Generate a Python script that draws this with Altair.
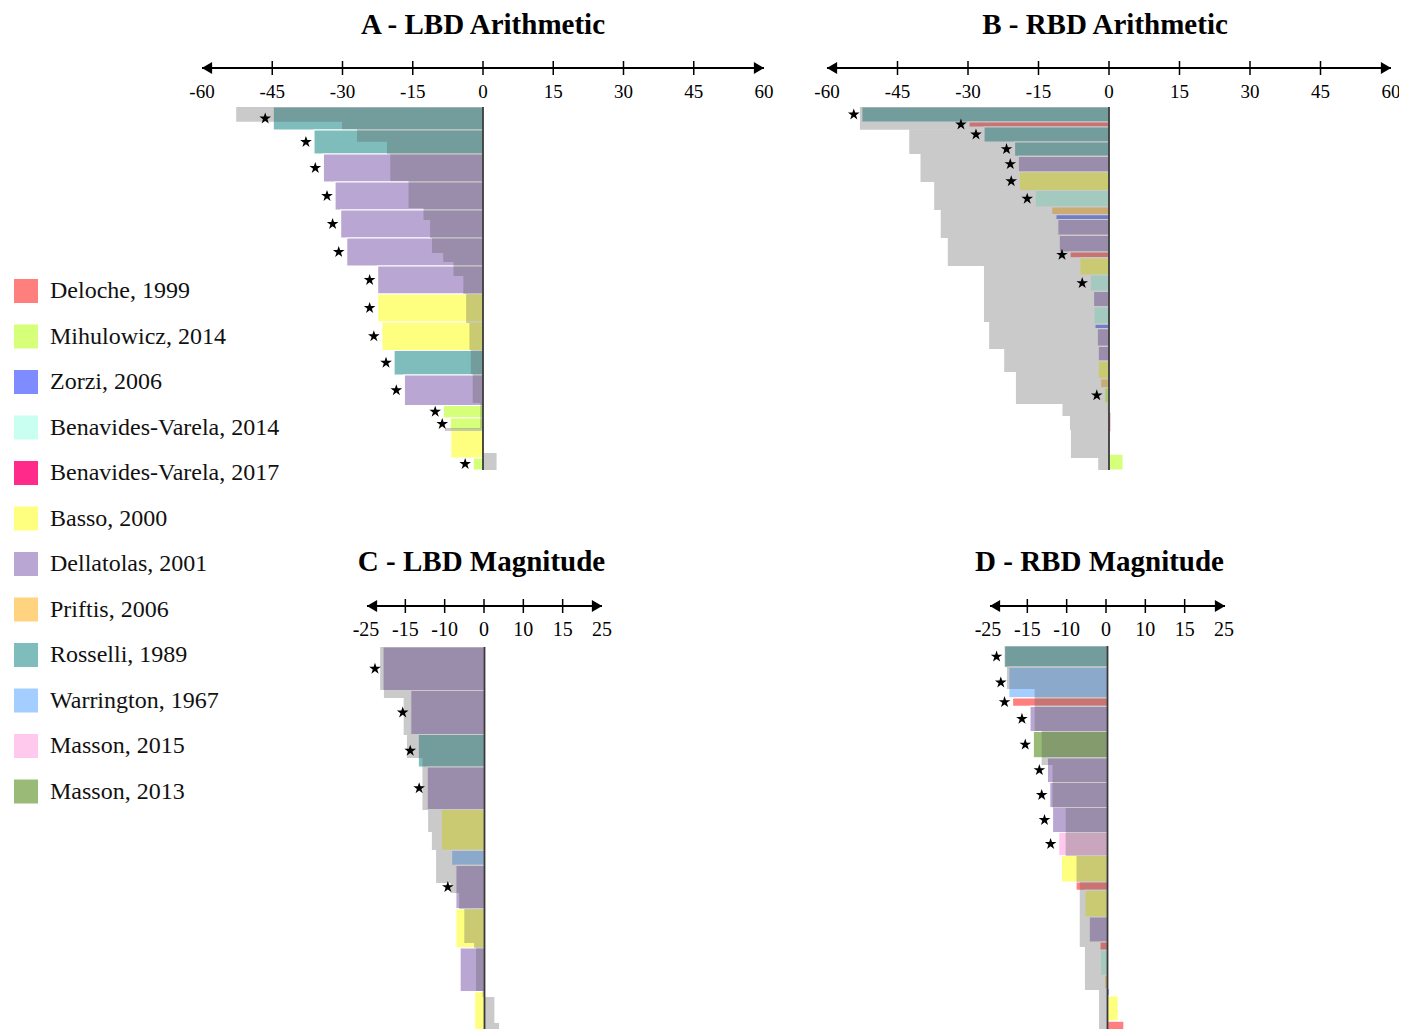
import altair as alt
import pandas as pd
import numpy as np

# ---------------- data ----------------
STUDIES = ["Deloche, 1999", "Mihulowicz, 2014", "Zorzi, 2006", "Benavides-Varela, 2014",
           "Benavides-Varela, 2017", "Basso, 2000", "Dellatolas, 2001", "Priftis, 2006",
           "Rosselli, 1989", "Warrington, 1967", "Masson, 2015", "Masson, 2013"]
COLORS = ["#ff7f7f", "#d6ff7a", "#7f8cff", "#c8fff0", "#ff2a8a", "#ffff7f",
          "#b9a6d3", "#ffd37f", "#7fbcbc", "#a3ceff", "#ffc9ee", "#99bb77"]

DEL, MIH, ZOR, BV14, BV17, BAS, DLT, PRI, ROS, WAR, M15, M13 = STUDIES

# Panel A - LBD Arithmetic (coloured bars: study, effect, weight, significance)
A_STUDY = [ROS, ROS, DLT, DLT, DLT, DLT, DLT, BAS, BAS, ROS, DLT, MIH, MIH, BAS, MIH]
A_VALUE = [-44.8, -36.1, -34.1, -31.6, -30.4, -29.1, -22.5, -22.5, -21.6, -19.0, -16.8, -8.5, -7.0, -6.9, -2.1]
A_WEIGHT = [23, 24, 28, 28, 28, 28, 28, 28, 28.5, 24.5, 30.5, 12.5, 12, 28, 12]
A_SIG = [1, 1, 1, 1, 1, 1, 1, 1, 1, 1, 1, 1, 1, 0, 1]
# hatched comparison bars in panel A
A_HVALUE = [-52.7, -30.1, -26.9, -20.5, -19.8, -15.9, -12.7, -11.3, -10.9, -8.5, -6.3, -4.2, -3.6,
            -2.9, -2.6, -2.2, -0.6, -8.1, -0.2, 2.9]
A_HWEIGHT = [14.7, 7.6, 12.4, 12.6, 26.7, 27, 12, 18, 15, 9, 14, 18, 29, 27, 24, 29, 25, 3, 22, 17]

# Panel B - RBD Arithmetic
B_STUDY = [ROS, DEL, ROS, ROS, DLT, BAS, BV14, PRI, ZOR, DLT, DLT, DEL, BAS, BV14, DLT, BV14, ZOR,
           DLT, DLT, BAS, PRI, MIH, PRI, BV17, MIH, ZOR, MIH]
B_VALUE = [-52.6, -29.8, -26.6, -20.1, -19.3, -19.1, -15.7, -12.2, -11.3, -10.9, -10.6, -8.3, -6.2,
           -4.0, -3.3, -3.2, -3.0, -2.5, -2.3, -2.3, -1.8, -0.9, -0.4, 0.4, 0.3, 0.3, 3.0]
B_WEIGHT = [15, 5, 15, 14.3, 15.7, 18.5, 16.5, 7.7, 4.8, 15.8, 16.7, 5.8, 17.2, 16.3, 15.6, 17.3, 4.4,
            17.7, 14.9, 17.6, 9, 15.2, 9.2, 20, 16.6, 5.4, 15.8]
B_SIG = [1, 1, 1, 1, 1, 1, 1, 0, 0, 0, 0, 1, 0, 1, 0, 0, 0, 0, 0, 0, 0, 1, 0, 0, 0, 0, 0]
B_HVALUE = [-53.0, -42.5, -40.1, -37.2, -35.8, -34.3, -26.6, -25.5, -22.3, -19.8, -9.9, -8.3, -8.1, -2.3]
B_HWEIGHT = [22.7, 24.3, 28, 28, 28, 28, 56, 27, 23, 32, 12, 14, 28, 12]

# Panel C - LBD Magnitude
C_STUDY = [DLT, DLT, ROS, DLT, BAS, WAR, DLT, BAS, DLT, BAS]
C_VALUE = [-21.6, -15.7, -14.1, -12.2, -9.2, -7.0, -6.1, -6.1, -5.2, -2.1]
C_WEIGHT = [43.5, 44, 32.5, 42.5, 40.8, 15, 43.5, 39, 43.9, 48.3]
C_SIG = [1, 1, 1, 1, 0, 0, 1, 0, 0, 0]
C_HVALUE = [-22.2, -21.4, -17.2, -16.5, -13.2, -12.0, -11.2, -10.3, -7.2, -5.4, -4.3, -2.2, -1.8, -0.4, 2.1, 3.1]
C_HWEIGHT = [43, 8, 37, 23, 52, 22, 18, 33, 10, 16, 34, 5, 43, 6, 26, 17]

# Panel D - RBD Magnitude
D_STUDY = [ROS, WAR, DEL, DLT, M13, DLT, DLT, DLT, M15, BAS, DEL, BAS, DLT, DEL, BV14, PRI, ZOR, BAS, DEL]
D_VALUE = [-21.9, -21.0, -20.2, -16.5, -15.8, -12.8, -12.3, -11.7, -10.4, -9.8, -6.7, -4.8, -3.9,
           -1.6, -1.5, -0.6, 0.4, 2.3, 3.5]
D_WEIGHT = [21.2, 30.6, 8.5, 25.2, 26.3, 24.7, 25, 25, 23, 26.5, 8.3, 26.7, 25, 8.3, 25, 13.2, 7.3, 25.4, 18.8]
D_SIG = [1, 1, 1, 1, 1, 1, 1, 1, 1, 0, 0, 0, 0, 0, 0, 0, 0, 0, 0]
D_HVALUE = [-21.9, -21.4, -15.5, -14.0, -11.7, -8.9, -6.6, -5.9, -4.8, -1.8]
D_HWEIGHT = [21, 22, 42, 34, 43, 48, 26, 65, 43, 50]

# axis tick labels (strings, as printed)
AB_LABELS = ["-60", "-45", "-30", "-15", "0", "15", "30", "45", "60"]
CD_LABELS = ["-25", "-15", "-10", "0", "10", "15", "25"]

STAR = ("M0,-1L0.2245,-0.309L0.9511,-0.309L0.3633,0.118L0.5878,0.809L0,0.382"
        "L-0.5878,0.809L-0.3633,0.118L-0.9511,-0.309L-0.2245,-0.309Z")
SERIF = "Liberation Serif"

color_enc = alt.Color(
    "study:N",
    scale=alt.Scale(domain=STUDIES, range=COLORS),
    legend=alt.Legend(
        title=None, orient="none", legendX=6, legendY=271, symbolType="square",
        symbolSize=576, symbolStrokeWidth=0, symbolOpacity=1, labelFont=SERIF,
        labelFontSize=24, labelColor="#111", labelOffset=12, rowPadding=21.5,
        labelLimit=400, padding=0,
    ),
)


def panel(title, study, value, weight, sig, hvalue, hweight, xdom, xrange, ytop,
          axis_y, title_y, title_dx, labels, label_range, label_size):
    total = float(np.sum(weight))
    ends = np.cumsum(weight)
    starts = ends - np.array(weight)
    col = pd.DataFrame({"study": study, "value": value, "zero": 0.0,
                        "y0": starts, "y1": ends, "sig": sig})
    col["ymid"] = (col["y0"] + col["y1"]) / 2
    hends = np.cumsum(hweight)
    hstarts = hends - np.array(hweight)
    hat = pd.DataFrame({"value": hvalue, "zero": 0.0, "y0": hstarts, "y1": hends})
    stars = col[col["sig"] == 1]

    xs = alt.Scale(domain=xdom, range=xrange, nice=False, zero=False)
    ys = alt.Scale(domain=[0, total], range=[ytop, ytop + total], nice=False, zero=False)

    def X(f):
        return alt.X(f, type="quantitative", scale=xs, axis=None)

    def Y(f):
        return alt.Y(f, type="quantitative", scale=ys, axis=None)

    bars = alt.Chart(col).mark_rect(stroke="white", strokeWidth=1.2).encode(
        x=X("value"), x2=alt.X2("zero"), y=Y("y0"), y2=alt.Y2("y1"), color=color_enc)
    hatch = alt.Chart(hat).mark_rect(fill="#5a5a5a", fillOpacity=0.32).encode(
        x=X("value"), x2=alt.X2("zero"), y=Y("y0"), y2=alt.Y2("y1"))
    zline = alt.Chart(pd.DataFrame({"zero": [0.0], "a": [0.0], "b": [total]})).mark_rule(
        color="#3a3a3a", strokeWidth=1.8).encode(x=X("zero"), y=Y("a"), y2=alt.Y2("b"))
    star = alt.Chart(stars).mark_point(shape=STAR, filled=True, size=150, color="black",
                                       opacity=1, xOffset=-8).encode(x=X("value"), y=Y("ymid"))
    ax = pd.DataFrame({"a": [xdom[0]], "b": [xdom[1]]})
    aline = alt.Chart(ax).mark_rule(color="black", strokeWidth=2).encode(
        x=X("a"), x2=alt.X2("b"), y=alt.value(axis_y))
    la = alt.Chart(ax).mark_point(shape="triangle-left", filled=True, size=140, color="black",
                                  opacity=1, xOffset=5).encode(x=X("a"), y=alt.value(axis_y))
    ra = alt.Chart(ax).mark_point(shape="triangle-right", filled=True, size=140, color="black",
                                  opacity=1, xOffset=-5).encode(x=X("b"), y=alt.value(axis_y))

    # tick axis: labels evenly spaced along the arrow (as printed), ticks at inner labels
    lab_df = pd.DataFrame({"lab": labels})
    inner = pd.DataFrame({"lab": labels[1:-1]})
    ls = alt.Scale(type="point", domain=labels, range=label_range, padding=0)
    tk = alt.Chart(inner).mark_rule(color="black", strokeWidth=1.5).encode(
        x=alt.X("lab:O", scale=ls, axis=None, sort=None),
        y=alt.value(axis_y - 7), y2=alt.value(axis_y + 7))
    lb = alt.Chart(lab_df).mark_text(
        font=SERIF, fontSize=label_size, baseline="middle", color="black").encode(
        x=alt.X("lab:O", scale=ls, axis=None, sort=None),
        y=alt.value(axis_y + 24), text="lab:N")
    tt = alt.Chart(pd.DataFrame({"x": [0.0], "t": [title]})).mark_text(
        font=SERIF, fontSize=29, fontWeight="bold", baseline="alphabetic", color="black",
        dx=title_dx).encode(x=X("x"), y=alt.value(title_y), text="t:N")
    return [bars, hatch, zline, star, aline, la, ra, tk, lb, tt]


layers = []
layers += panel("A - LBD Arithmetic", A_STUDY, A_VALUE, A_WEIGHT, A_SIG, A_HVALUE, A_HWEIGHT,
                [-60, 60], [194, 756], 99, 60, 26, 0, AB_LABELS, [194, 756], 19)
layers += panel("B - RBD Arithmetic", B_STUDY, B_VALUE, B_WEIGHT, B_SIG, B_HVALUE, B_HWEIGHT,
                [-60, 60], [819, 1383], 99, 60, 26, -4, AB_LABELS, [819, 1383], 19)
layers += panel("C - LBD Magnitude", C_STUDY, C_VALUE, C_WEIGHT, C_SIG, C_HVALUE, C_HWEIGHT,
                [-25, 25], [359, 594], 639, 598, 563, -3, CD_LABELS, [358, 594], 20)
layers += panel("D - RBD Magnitude", D_STUDY, D_VALUE, D_WEIGHT, D_SIG, D_HVALUE, D_HWEIGHT,
                [-25, 25], [982, 1217], 638, 598, 563, -8, CD_LABELS, [980, 1216], 20)

chart = alt.layer(*layers).resolve_scale(x="independent", y="independent").properties(
    width=1391, height=1021, autosize="none", padding=0
).configure_view(stroke=None)

chart.save("out.html", embed_options={"renderer": "svg", "actions": False})
